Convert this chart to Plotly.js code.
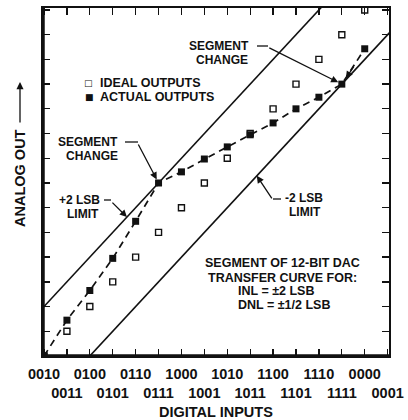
<!DOCTYPE html>
<html>
<head>
<meta charset="utf-8">
<script src="https://cdn.plot.ly/plotly-3.0.1.min.js"></script>
<style>html,body{margin:0;padding:0;background:#fff;}#chart{width:408px;height:420px;}</style>
</head>
<body>
<div id="chart"></div>
<script>
// ---- data ----
const codes = [2,3,4,5,6,7,8,9,10,11,12,13,14,15,16,17];
const codeLabels = ['0010','0011','0100','0101','0110','0111','1000','1001','1010','1011','1100','1101','1110','1111','0000','0001'];
const idealOutputs = [0,1,2,3,4,5,6,7,8,9,10,11,12,13,14,15];
const actualCodes = [2,3,4,5,6,7,8,9,10,11,12,13,14,15,16];
const actualOutputs = [0,1.45,2.65,3.95,5.45,7.0,7.45,7.97,8.46,8.95,9.43,10.0,10.47,11.0,12.43];
const limitCodes = [1,18];
const plusLimit = [1,18];     // ideal + 2 LSB
const minusLimit = [-3,14];   // ideal - 2 LSB
const yTicks = [0,1,2,3,4,5,6,7,8,9,10,11,12,13,14];

// ---- layout helpers ----
const L = 43, R = 19, T = 8, B = 64, W = 408, H = 420;
const PW = W - L - R, PH = H - T - B;
function px(x){ return (x - L) / PW; }
function py(y){ return (H - B - y) / PH; }
const FONT = 'Liberation Sans, Arial, sans-serif';

function txt(text, x, y, opts){
  return Object.assign({text: text, xref:'paper', yref:'paper', x: px(x), y: py(y),
    showarrow:false, xanchor:'center', yanchor:'middle',
    font:{family:FONT, size:12, color:'#111', weight:'bold'}}, opts||{});
}
function arrow(x, y, ax, ay, refData, standoff){
  return {text:'', x: x, y: y, xref: refData ? 'x':'paper', yref: refData ? 'y':'paper',
    showarrow:true, ax: ax, ay: ay, arrowhead:2, arrowsize:1.1, arrowwidth:1.3,
    arrowcolor:'#111', standoff: standoff||0};
}
function stub(x0, y0, x1, y1){
  return {type:'line', xref:'paper', yref:'paper', x0:px(x0), y0:py(y0), x1:px(x1), y1:py(y1),
    line:{color:'#111', width:1.3}};
}

const tickText = codeLabels.map((t,i) => i % 2 === 0 ? t : '<br>' + t);
const boxFont = {family:FONT, size:12.5, color:'#111', weight:'bold'};

const traces = [
  {x: limitCodes, y: plusLimit, mode:'lines', line:{color:'#111', width:1.6}, hoverinfo:'skip'},
  {x: limitCodes, y: minusLimit, mode:'lines', line:{color:'#111', width:1.6}, hoverinfo:'skip'},
  {x: actualCodes, y: actualOutputs, mode:'lines', line:{color:'#111', width:1.7, dash:'7px,5px'}},
  {x: codes, y: idealOutputs, mode:'markers',
   marker:{symbol:'square', size:6, color:'#fff', line:{color:'#111', width:1.4}}},
  {x: actualCodes, y: actualOutputs, mode:'markers',
   marker:{symbol:'square', size:7, color:'#111', line:{width:0}}}
];

const annotations = [
  // y title + arrow
  txt('ANALOG OUT', 20, 178, {textangle:-90, font:{family:FONT, size:14.5, color:'#111', weight:'bold'}}),
  arrow(px(20), py(82), 0, 42, false, 0),
  // x title
  txt('DIGITAL INPUTS', 215.5, 412, {font:{family:FONT, size:14.5, color:'#111', weight:'bold'}}),
  // legend
  txt('□', 88, 83, {font:{family:'DejaVu Sans', size:9, color:'#111'}}),
  txt('IDEAL OUTPUTS', 98, 83, {xanchor:'left', font:boxFont}),
  txt('■', 89, 96.5, {font:{family:'DejaVu Sans', size:9, color:'#111'}}),
  txt('ACTUAL OUTPUTS', 98, 97, {xanchor:'left', font:boxFont}),
  // top-right segment change
  txt('SEGMENT', 251, 46, {xanchor:'right'}),
  txt('CHANGE', 250, 60, {xanchor:'right'}),
  arrow(15, 11, -74, -37, true, 4),
  arrow(15, 11, 13, -19, true, 7),
  // left segment change
  txt('SEGMENT', 120, 142, {xanchor:'right'}),
  txt('CHANGE', 120, 156, {xanchor:'right'}),
  arrow(7, 7, -21, -40, true, 4),
  // +2 LSB limit
  txt('+2 LSB', 79.5, 200),
  txt('LIMIT', 83, 214),
  arrow(5.62, 5.62, -16, -16, true, 0),
  // -2 LSB limit
  txt('-2 LSB', 304, 198),
  txt('LIMIT', 305, 212),
  arrow(11.29, 7.29, 16, 24, true, 0),
  // box text
  txt('SEGMENT OF 12-BIT DAC', 282, 263, {font:boxFont}),
  txt('TRANSFER CURVE FOR:', 282, 278, {font:boxFont}),
  txt('INL = ±2 LSB', 236, 291, {xanchor:'left', font:boxFont}),
  txt('DNL = ±1/2 LSB', 236, 305, {xanchor:'left', font:boxFont})
];

const shapes = [
  stub(125, 142, 138, 142),
  stub(257, 46, 268, 46),
  stub(104, 200, 111, 200),
  stub(273, 199, 281, 199),
  {type:'line', xref:'paper', yref:'paper', x0:0, x1:0, y0:0, y1:1, line:{color:'#111', width:3.5}},
  {type:'line', xref:'paper', yref:'paper', x0:0, x1:1, y0:0, y1:0, line:{color:'#111', width:3.5}}
];

const layout = {
  width: W, height: H,
  margin: {l:L, r:R, t:T, b:B},
  paper_bgcolor:'#fff', plot_bgcolor:'#fff',
  showlegend:false,
  font:{family:FONT, color:'#111'},
  xaxis: {range:[1.956, 17.06], tickvals: codes, ticktext: tickText, tickangle:0,
    ticks:'inside', ticklen:7, tickwidth:1.3, tickcolor:'#111',
    showline:true, linecolor:'#111', linewidth:2, mirror:'allticks',
    showgrid:false, zeroline:false, ticklabelstandoff:4,
    tickfont:{family:FONT, size:14.5, color:'#111', weight:'bold'}},
  yaxis: {range:[0, 14.08], tickvals: yTicks, showticklabels:false,
    ticks:'inside', ticklen:7, tickwidth:1.3, tickcolor:'#111',
    showline:true, linecolor:'#111', linewidth:2, mirror:'allticks',
    showgrid:false, zeroline:false},
  annotations: annotations,
  shapes: shapes
};

Plotly.newPlot('chart', traces, layout, {staticPlot:true, displayModeBar:false});
</script>
</body>
</html>
